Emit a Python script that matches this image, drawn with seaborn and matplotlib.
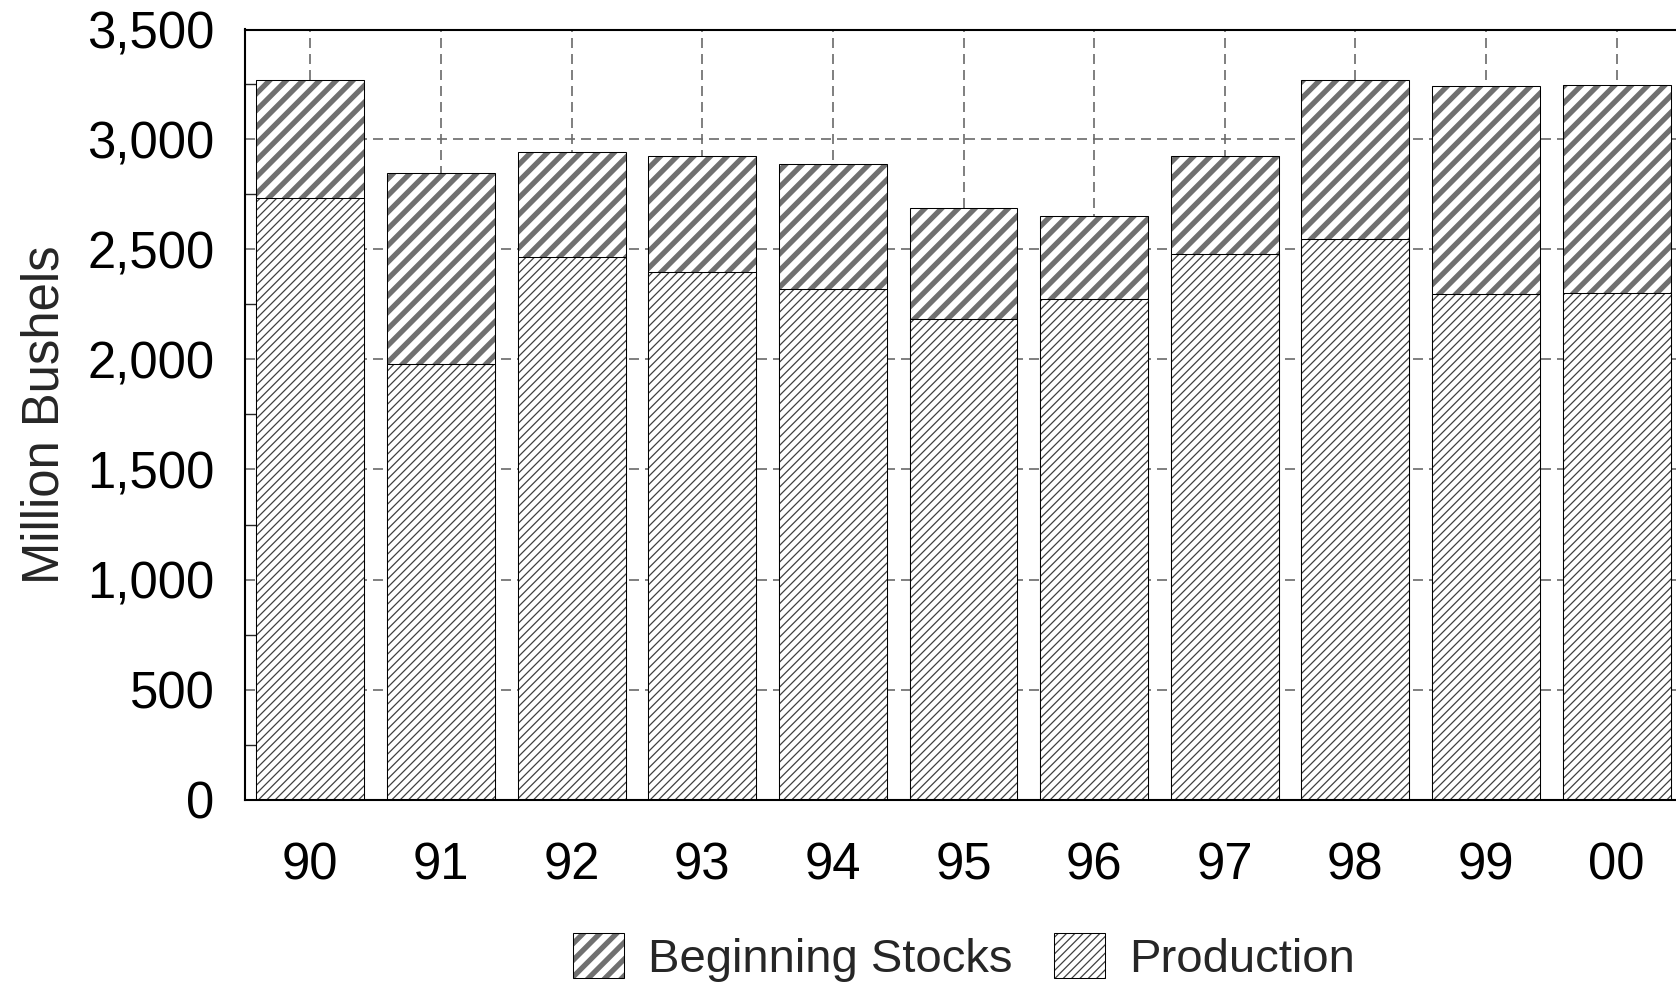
import matplotlib
matplotlib.use('Agg')
import matplotlib.pyplot as plt
from matplotlib.patches import Patch
from matplotlib.ticker import MultipleLocator, FuncFormatter
from matplotlib.colors import to_rgba
import seaborn as sns

# values (million bushels)
years = ['90', '91', '92', '93', '94', '95', '96', '97', '98', '99', '00']
production = [2736, 1981, 2467, 2396, 2321, 2183, 2277, 2481, 2547, 2299, 2301]
beginning_stocks = [536, 866, 475, 529, 568, 507, 376, 444, 722, 946, 948]
totals = [p + s for p, s in zip(production, beginning_stocks)]

sns.set_style('white')
plt.rcParams['font.family'] = ['Liberation Sans', 'DejaVu Sans']
plt.rcParams['hatch.linewidth'] = 1.0

W, H = 1676, 986
fig = plt.figure(figsize=(W / 100, H / 100), dpi=100)
ax = fig.add_axes([245 / W, 186.5 / H, 1437 / W, 770 / H])

# hatch string, hatch colour, hatch line width for each series
STOCK_STYLE = ('//', '#707070', 3.8)
PROD_STYLE = ('////', '#404040', 0.9)


def style_patch(p, style):
    hatch, color, lw = style
    p.set_facecolor('white')
    p.set_edgecolor('black')
    p.set_linewidth(0.75)
    p.set_hatch(hatch)
    p._hatch_color = to_rgba(color)
    if hasattr(p, 'set_hatch_linewidth'):
        p.set_hatch_linewidth(lw)


# full stacked height first (beginning stocks on top), production over it
sns.barplot(x=years, y=totals, order=years, color='white', width=0.826,
            errorbar=None, ax=ax)
stock_bars = list(ax.patches)
for p in stock_bars:
    style_patch(p, STOCK_STYLE)

sns.barplot(x=years, y=production, order=years, color='white', width=0.826,
            errorbar=None, ax=ax)
for p in ax.patches:
    if p not in stock_bars:
        style_patch(p, PROD_STYLE)

ax.set_xlim(-0.5, len(years) - 0.5)
ax.set_ylim(0, 3500)
ax.yaxis.set_major_locator(MultipleLocator(500))
ax.yaxis.set_minor_locator(MultipleLocator(250))
ax.yaxis.set_major_formatter(FuncFormatter(lambda v, pos: f'{int(v):,}'))

# dashed grid behind the bars
for y in ax.get_yticks():
    if 0 < y < 3500:
        ax.axhline(y, color='#6a6a6a', lw=1.2, ls=(0, (6, 3.6)), zorder=0.5)
for x in ax.get_xticks():
    ax.axvline(x, color='#6a6a6a', lw=1.2, ls=(0, (6, 3.6)), zorder=0.5)

ax.tick_params(axis='y', which='major', direction='in', length=15.6, width=1,
               pad=22, labelsize=36.6, colors='black')
ax.tick_params(axis='y', which='minor', direction='in', length=8.4, width=1,
               left=True)
ax.tick_params(axis='x', direction='in', length=14.4, width=1, pad=30,
               labelsize=36.6, colors='black', bottom=True)

for side in ['left', 'bottom', 'top']:
    ax.spines[side].set_visible(True)
    ax.spines[side].set_color('black')
    ax.spines[side].set_linewidth(1.5)
ax.spines['right'].set_visible(False)

ax.set_xlabel('')
ax.set_ylabel('Million Bushels', fontsize=36.6)
ax.yaxis.set_label_coords((69 - 245) / 1437, 0.5)

handles = [Patch(facecolor='white', edgecolor='black', lw=0.75),
           Patch(facecolor='white', edgecolor='black', lw=0.75)]
leg = fig.legend(handles, ['Beginning Stocks', 'Production'], loc='center',
                 bbox_to_anchor=(964 / W, 1 - 957.5 / H), ncol=2,
                 frameon=False, fontsize=34, handlelength=1.08,
                 handleheight=1.06, handletextpad=0.52, columnspacing=0.87,
                 borderpad=0)
for h, style in zip(leg.legend_handles, [STOCK_STYLE, PROD_STYLE]):
    style_patch(h, style)

fig.savefig('out.png', dpi=100)
